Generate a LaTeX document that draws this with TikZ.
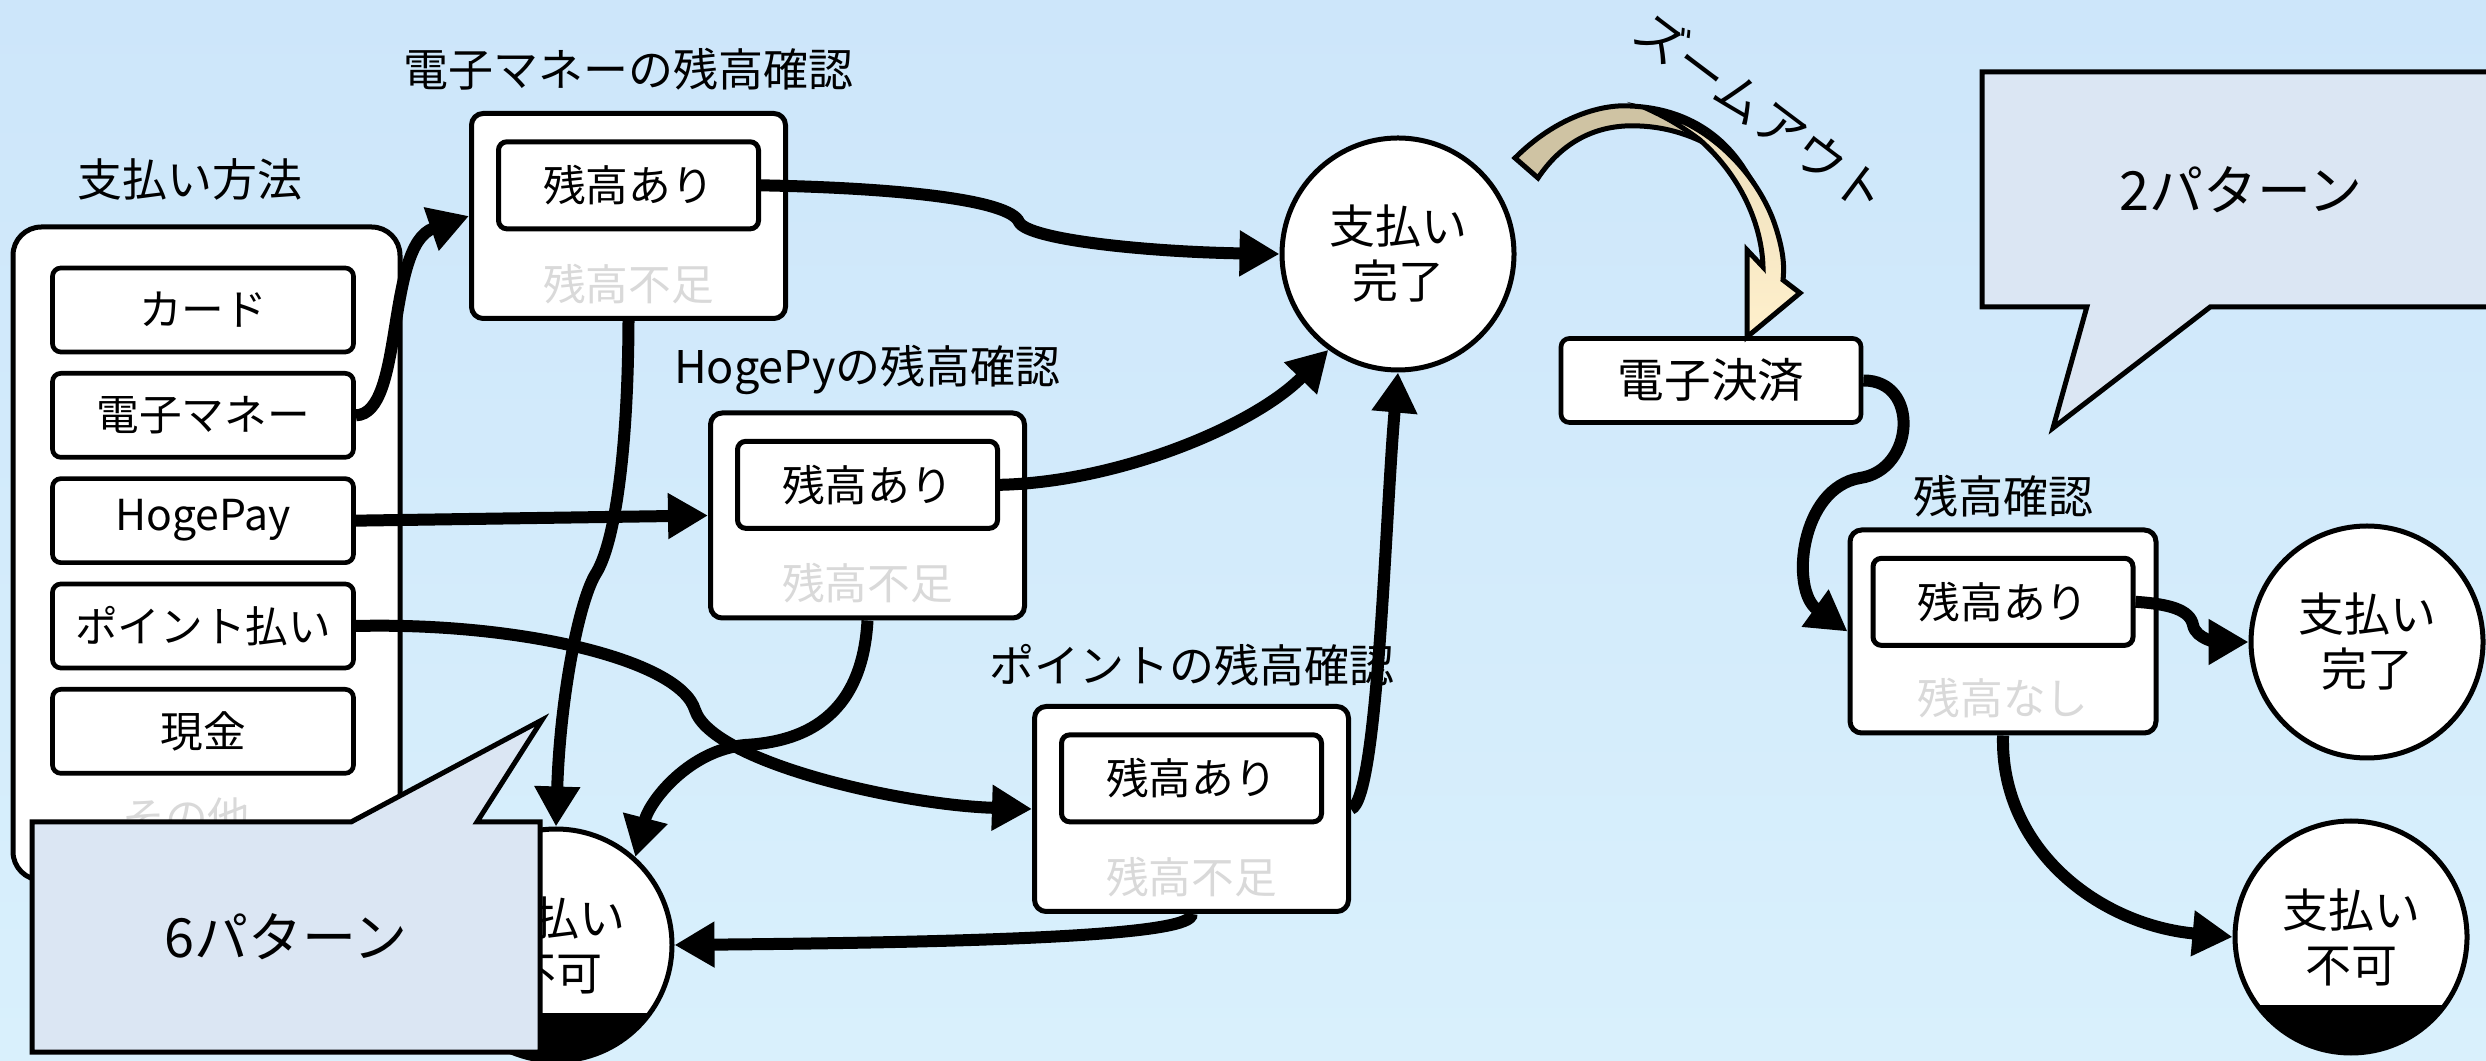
\documentclass[tikz,border=0pt]{standalone}
\usepackage{fontspec}
\setmainfont{Noto Sans CJK JP}
\usepackage{tikz}
\usetikzlibrary{shapes,shapes.callouts,arrows.meta,positioning}
\definecolor{skytop}{RGB}{205,230,250}
\definecolor{skybot}{RGB}{217,240,252}
\definecolor{notefill}{RGB}{219,230,243}
\definecolor{dimtext}{RGB}{217,217,217}
\definecolor{tan}{RGB}{207,195,163}
\definecolor{cream}{RGB}{255,240,204}
\tikzstyle{group} = [draw, line width=1.5pt, fill=white, rounded corners=8.5pt, minimum width=116.1pt, minimum height=195.9pt]
\tikzstyle{method} = [draw, line width=1.4pt, fill=white, rounded corners=2.5pt, minimum width=90.3pt, minimum height=25.2pt, inner sep=0pt, font=\fontsize{12.8}{15}\selectfont]
\tikzstyle{check} = [draw, line width=1.5pt, fill=white, rounded corners=3.5pt, minimum width=94.2pt, minimum height=61.5pt]
\tikzstyle{okbox} = [draw, line width=1.5pt, fill=white, rounded corners=2.5pt, minimum width=78pt, minimum height=26.1pt, inner sep=0pt, font=\fontsize{12.8}{15}\selectfont]
\tikzstyle{ngtext} = [text=dimtext, inner sep=0pt, font=\fontsize{12.8}{15}\selectfont]
\tikzstyle{title} = [inner sep=0pt, font=\fontsize{13.5}{16}\selectfont]
\tikzstyle{done} = [circle, draw, line width=1.5pt, fill=white, minimum size=69.6pt, inner sep=0pt, align=center, font=\fontsize{13.8}{16.5}\selectfont]
\tikzstyle{fail} = [done, path picture={\fill[black] ([yshift=-20.4pt]path picture bounding box.west) rectangle (path picture bounding box.south east);}]
\tikzstyle{flow} = [draw, line width=3.6pt, -{Triangle[length=12pt,width=13pt]}]
\tikzstyle{note} = [rectangle callout, draw, line width=1.5pt, fill=notefill, font=\fontsize{16.2}{19}\selectfont]

\begin{document}
\begin{tikzpicture}[x=0.3pt, y=0.3pt]

% sky
\fill[top color=skytop, bottom color=skybot] (0,0) rectangle (2486,-1061);
\useasboundingbox (0,0) rectangle (2486,-1061);

% payment methods =============================
\node[group] (methods) at (206.5,-553.5) {};
\node[title, above=7pt of methods, xshift=-5pt] (methodtitle) {支払い方法};
\node[method] (card) at (203,-310) {カード};
\node[method, below=5pt of card] (emoney) {電子マネー};
\node[method, below=5pt of emoney] (hogepay) {HogePay};
\node[method, below=5pt of hogepay] (point) {ポイント払い};
\node[method, below=5pt of point] (cash) {現金};
\node[ngtext, below=6.5pt of cash, xshift=-5pt] (other) {その他};

% balance checks
\node[check] (echeck) at (628.5,-216) {};
\node[title, above=6pt of echeck] (etitle) {電子マネーの残高確認};
\node[okbox, below=8.5pt of echeck.north] (eok) {残高あり};
\node[ngtext, above=5pt of echeck.south] (eng) {残高不足};

\node[check] (hcheck) at (867.5,-515.5) {};
\node[title, above=4.5pt of hcheck] (htitle) {HogePyの残高確認};
\node[okbox, below=8.5pt of hcheck.north] (hok) {残高あり};
\node[ngtext, above=5pt of hcheck.south] (hng) {残高不足};

\node[check] (pcheck) at (1191.5,-809) {};
\node[title, above=5pt of pcheck] (ptitle) {ポイントの残高確認};
\node[okbox, below=8.5pt of pcheck.north] (pok) {残高あり};
\node[ngtext, above=5pt of pcheck.south] (png) {残高不足};

% results
\node[done] (done1) at (1398,-254) {支払い\\完了};
\node[fail] (fail1) at (556,-945) {支払い\\不可};

% zoomed out =============================
\node[method, minimum width=90pt, font=\fontsize{14}{16}\selectfont] (epay) at (1711,-380.5) {電子決済};
\node[check, minimum width=91.8pt, minimum height=60.9pt] (rcheck) at (2003,-631.5) {};
\node[title, above=3pt of rcheck] (rtitle) {残高確認};
\node[okbox, below=8.5pt of rcheck.north] (rok) {残高あり};
\node[ngtext, above=5pt of rcheck.south] (rng) {残高なし};
\node[done] (done2) at (2367,-642) {支払い\\完了};
\node[fail] (fail2) at (2351,-937) {支払い\\不可};

%edges
\path[flow] (emoney.east) .. controls (405,-414) and (385,-245) .. (echeck.west);
\path[flow] (eok.east) .. controls (900,-188) and (1010,-200) .. (1019,-222) .. controls (1028,-240) and (1150,-252) .. (done1.west);
\path[flow] (echeck.south) .. controls (628,-450) and (615,-545) .. (595,-575) .. controls (578,-605) and (560,-700) .. (fail1.north);
\path[flow] (hogepay.east) -- (hcheck.west);
\path[flow] (hok.east) .. controls (1120,-482) and (1255,-425) .. (done1.234);
\path[flow] (hcheck.south) .. controls (862,-720) and (800,-742) .. (745,-745) .. controls (690,-750) and (650,-800) .. (fail1.48);
\path[flow] (point.east) .. controls (520,-622) and (680,-660) .. (695,-710) .. controls (712,-762) and (900,-805) .. (pcheck.west);
\path[flow] (pcheck.east) .. controls (1378,-800) and (1385,-520) .. (done1.south);
\path[flow] (pcheck.south) .. controls (1195,-935) and (1000,-942) .. (fail1.east);

\path[flow] (epay.east) .. controls (1920,-380) and (1915,-470) .. (1860,-478) .. controls (1800,-488) and (1790,-590) .. (rcheck.west);
\path[flow] (rok.east) .. controls (2170,-604) and (2190,-610) .. (2193,-625) .. controls (2196,-640) and (2220,-642) .. (done2.west);
\path[flow] (rcheck.south) .. controls (2000,-850) and (2100,-925) .. (fail2.west);

% zoom-out arrow
\filldraw[fill=tan, line width=1.5pt] (1515,-158) .. controls (1555,-118) and (1600,-104) .. (1630,-106) .. controls (1680,-108) and (1720,-130) .. (1745,-170) .. controls (1710,-140) and (1670,-124) .. (1625,-126) .. controls (1590,-128) and (1560,-145) .. (1538,-178) -- cycle;
\filldraw[top color=tan!40!cream, bottom color=cream, line width=1.5pt] (1650,-110) .. controls (1715,-125) and (1760,-180) .. (1775,-225) .. controls (1785,-255) and (1784,-270) .. (1783,-280) -- (1800,-293) -- (1747,-337) -- (1747,-250) -- (1763,-267) .. controls (1762,-230) and (1745,-180) .. (1700,-140) .. controls (1680,-125) and (1665,-117) .. (1650,-110) -- cycle;
\node[title, font=\fontsize{15}{17}\selectfont, rotate=-37] (zoomtext) at (1762,-112) {ズームアウト};

% callouts
\node[note, minimum width=152.4pt, minimum height=69pt, callout absolute pointer={(542,-720)}, callout pointer width=37.8pt] (six) at (286,-937) {6パターン};
\node[note, minimum width=155.4pt, minimum height=70.5pt, callout absolute pointer={(2053,-428)}, callout pointer width=37pt] (two) at (2241,-189.5) {2パターン};

\end{tikzpicture}
\end{document}
